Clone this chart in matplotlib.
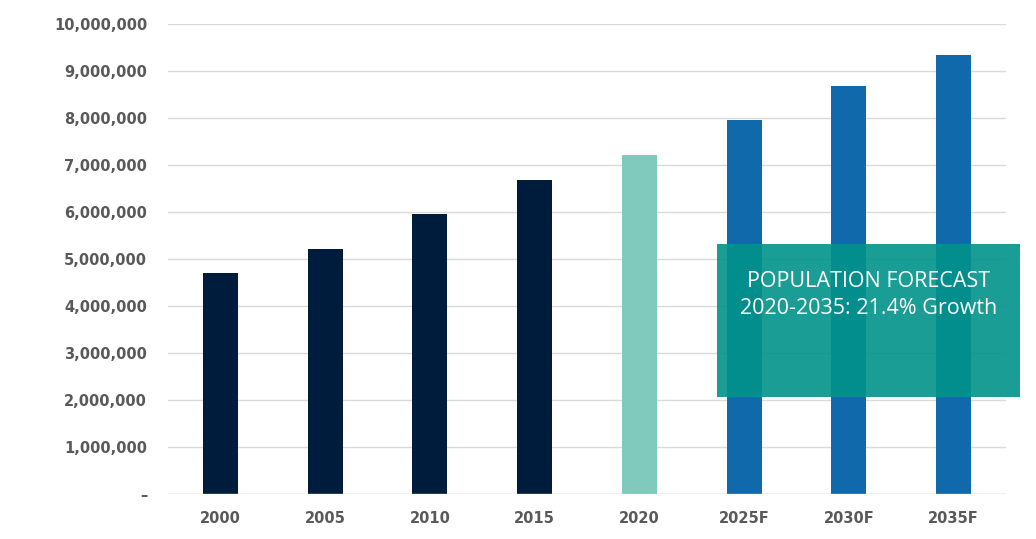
import numpy as np
import matplotlib
matplotlib.use("Agg")
import matplotlib.pyplot as plt
from matplotlib.patches import Rectangle
from matplotlib.ticker import FuncFormatter

# population values
years = ["2000", "2005", "2010", "2015", "2020", "2025F", "2030F", "2035F"]
population = [4700000, 5210000, 5960000, 6670000, 7220000, 7950000, 8690000, 9350000]
bar_colors = ["#001c3d", "#001c3d", "#001c3d", "#001c3d",
              "#7fcabc", "#0f69ab", "#0f69ab", "#0f69ab"]

box_lines = ["POPULATION FORECAST", "2020-2035: 21.4% Growth"]

fig = plt.figure(figsize=(10.36, 5.39), dpi=100)
ax = fig.add_axes([0.1622, 0.0835, 0.8088, 0.872])

x = np.arange(len(years))
ax.bar(x, population, width=0.335, color=bar_colors, zorder=2)

ax.set_xlim(-0.5, len(years) - 0.5)
ax.set_ylim(0, 10000000)
ax.set_yticks(np.arange(0, 10000001, 1000000))
ax.yaxis.set_major_formatter(FuncFormatter(lambda v, p: "–" if v == 0 else "{:,.0f}".format(v)))
ax.set_xticks(x)
ax.set_xticklabels(years)

ax.grid(axis="y", color="#d9d9d9", linewidth=1.0, zorder=0)
ax.axhline(0, color="#d9d9d9", linewidth=1.0, zorder=3)
for s in ax.spines.values():
    s.set_visible(False)
ax.tick_params(axis="both", length=0, labelcolor="#595959", labelsize=10.5)
ax.tick_params(axis="y", pad=15)
ax.tick_params(axis="x", pad=12)
for lbl in ax.get_xticklabels() + ax.get_yticklabels():
    lbl.set_fontweight("bold")

# forecast callout box
fig.patches.append(Rectangle((0.692, 0.2635), 0.2925, 0.284, transform=fig.transFigure,
                             facecolor="#00938a", alpha=0.9, edgecolor="none", zorder=5))
fig.text(0.838, 0.478, box_lines[0], color="white", fontsize=15.5, family="Open Sans",
         ha="center", va="center", zorder=6)
fig.text(0.838, 0.428, box_lines[1], color="white", fontsize=15.5, family="Open Sans",
         ha="center", va="center", zorder=6)

fig.savefig("out.png", dpi=100)
